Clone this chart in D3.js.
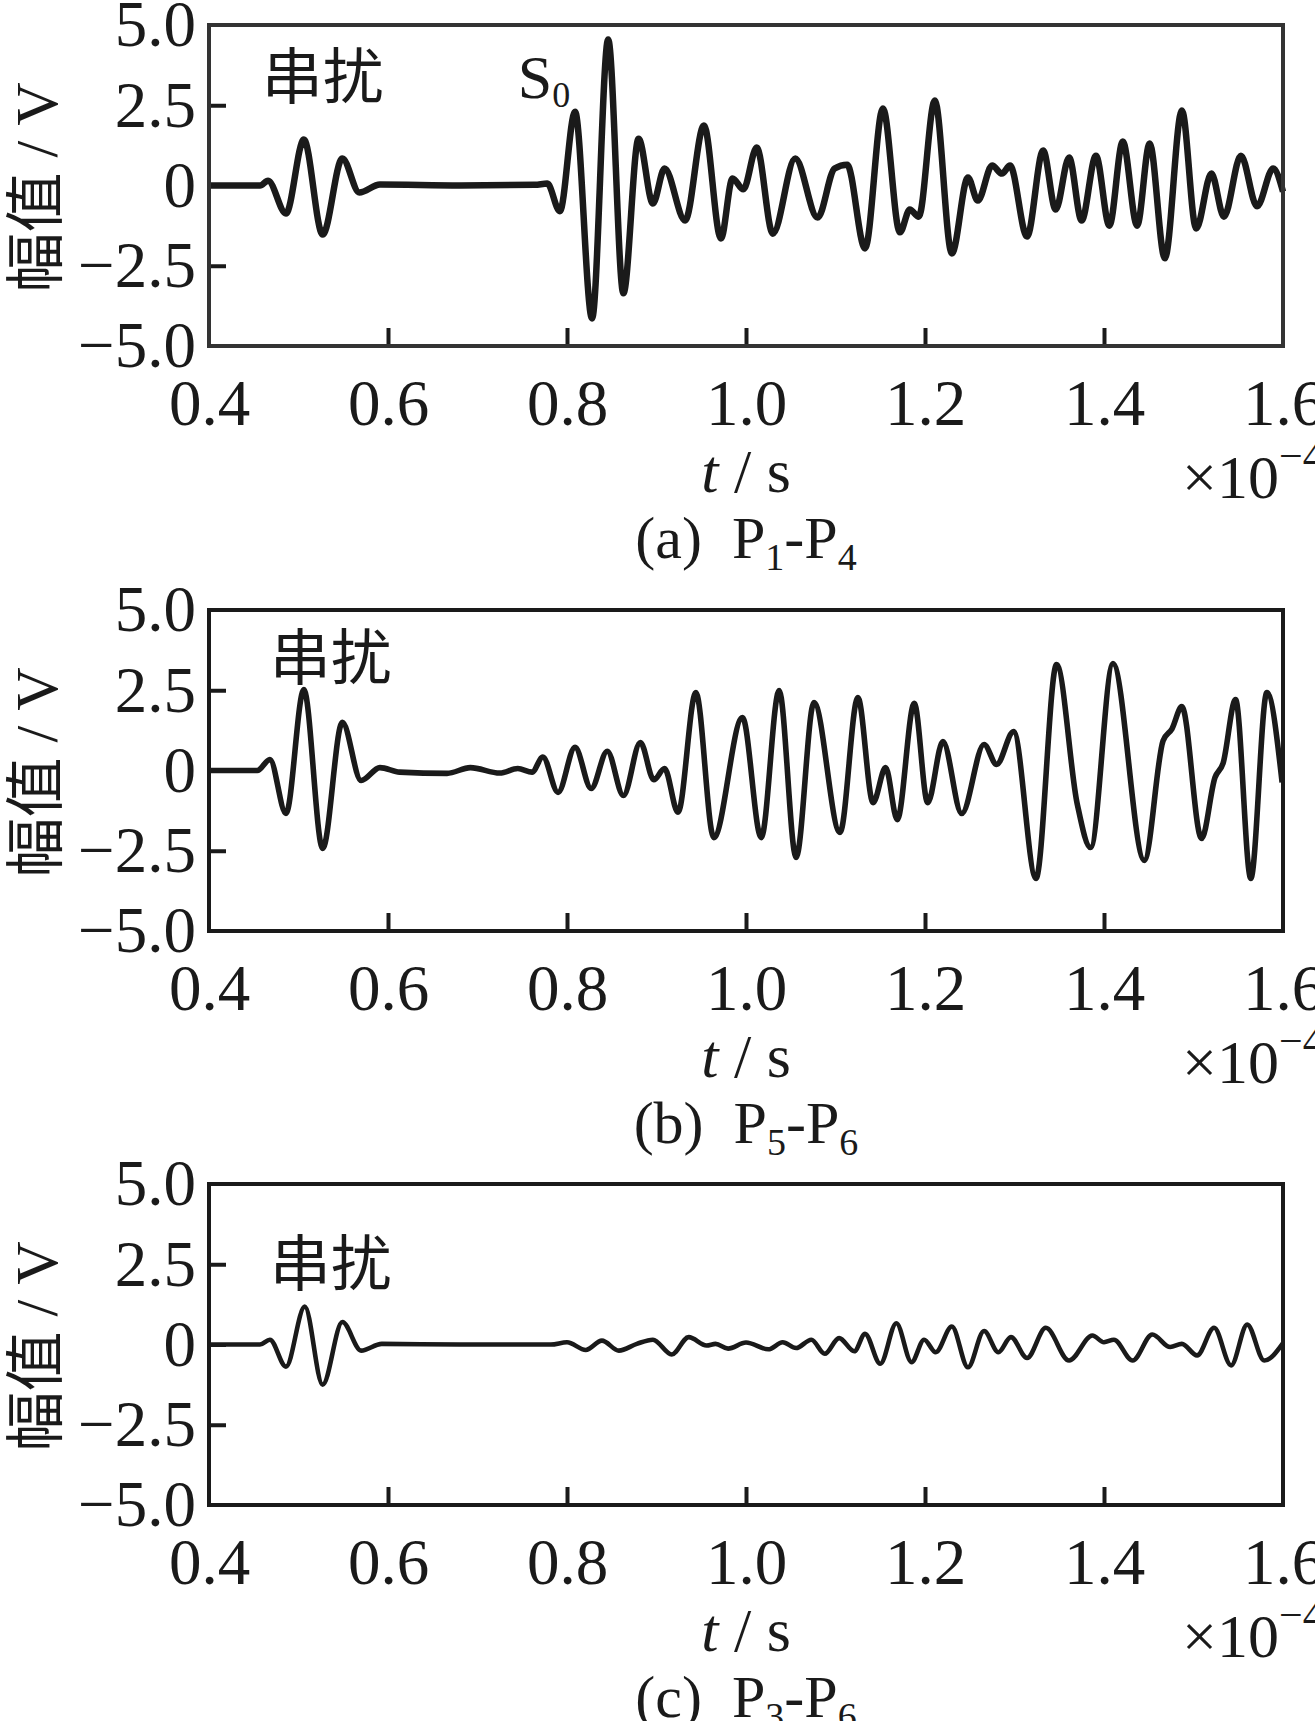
<!DOCTYPE html>
<html>
<head>
<meta charset="utf-8">
<script src="https://cdn.jsdelivr.net/npm/d3@7"></script>
<style>
	html, body { margin: 0; padding: 0; background: #fff; }
	svg { display: block; }
</style>
</head>
<body>
<svg id="chart" width="1315" height="1721"></svg>
<script>
// time in 1e-4 s, amplitude in V
var waveA = [
	[0.400, 0], [0.457, 0], [0.466, 0.15], [0.486, -0.87], [0.506, 1.43], [0.527, -1.53],
	[0.549, 0.84], [0.568, -0.22], [0.591, 0.03], [0.680, 0], [0.764, 0.02], [0.778, 0.06],
	[0.792, -0.80], [0.809, 2.30], [0.828, -4.14], [0.846, 4.55], [0.863, -3.36], [0.880, 1.46],
	[0.896, -0.56], [0.909, 0.53], [0.932, -1.09], [0.953, 1.87], [0.972, -1.65], [0.985, 0.22],
	[0.997, -0.12], [1.012, 1.18], [1.030, -1.50], [1.055, 0.84], [1.080, -1.00], [1.099, 0.53],
	[1.113, 0.65], [1.133, -1.96], [1.153, 2.40], [1.172, -1.46], [1.183, -0.75], [1.193, -0.97],
	[1.211, 2.65], [1.230, -2.12], [1.248, 0.25], [1.259, -0.47], [1.275, 0.62], [1.286, 0.37],
	[1.295, 0.62], [1.314, -1.59], [1.332, 1.09], [1.346, -0.75], [1.361, 0.87], [1.375, -1.09],
	[1.391, 0.93], [1.406, -1.25], [1.421, 1.37], [1.437, -1.25], [1.451, 1.31], [1.468, -2.27],
	[1.487, 2.34], [1.503, -1.34], [1.520, 0.37], [1.534, -0.97], [1.553, 0.93], [1.571, -0.65],
	[1.589, 0.53], [1.600, -0.19]
];
var waveB = [
	[0.400, 0], [0.454, 0], [0.468, 0.34], [0.486, -1.34], [0.506, 2.52], [0.527, -2.43],
	[0.549, 1.50], [0.570, -0.31], [0.591, 0.09], [0.613, -0.05], [0.666, -0.09], [0.692, 0.09],
	[0.725, -0.08], [0.745, 0.06], [0.761, -0.05], [0.773, 0.42], [0.790, -0.68], [0.809, 0.72],
	[0.827, -0.56], [0.845, 0.60], [0.863, -0.78], [0.882, 0.87], [0.897, -0.29], [0.909, 0.06],
	[0.924, -1.30], [0.944, 2.43], [0.964, -2.09], [0.996, 1.65], [1.017, -2.09], [1.037, 2.49],
	[1.056, -2.71], [1.076, 2.12], [1.105, -1.93], [1.125, 2.27], [1.142, -1.00], [1.156, 0.09],
	[1.169, -1.53], [1.188, 2.09], [1.203, -1.00], [1.220, 0.90], [1.241, -1.34], [1.266, 0.81],
	[1.280, 0.19], [1.299, 1.21], [1.324, -3.36], [1.347, 3.30], [1.370, -1.03], [1.385, -2.40],
	[1.410, 3.33], [1.445, -2.80], [1.466, 0.93], [1.476, 1.30], [1.487, 1.99], [1.509, -2.12],
	[1.524, -0.22], [1.533, 0.22], [1.547, 2.21], [1.564, -3.36], [1.582, 2.43], [1.599, -0.37]
];
var waveC = [
	[0.400, 0], [0.457, 0], [0.468, 0.15], [0.486, -0.69], [0.507, 1.18], [0.527, -1.25],
	[0.549, 0.70], [0.570, -0.19], [0.593, 0.02], [0.680, 0], [0.782, 0], [0.800, 0.07],
	[0.821, -0.17], [0.839, 0.12], [0.858, -0.19], [0.878, 0.02], [0.896, 0.15], [0.917, -0.31],
	[0.936, 0.23], [0.956, -0.03], [0.966, 0.02], [0.980, -0.13], [1.000, 0.06], [1.025, -0.15],
	[1.041, 0.07], [1.056, -0.11], [1.073, 0.15], [1.088, -0.29], [1.104, 0.20], [1.121, -0.21],
	[1.133, 0.33], [1.150, -0.60], [1.168, 0.66], [1.185, -0.55], [1.199, 0.15], [1.212, -0.24],
	[1.230, 0.56], [1.248, -0.71], [1.266, 0.42], [1.282, -0.24], [1.296, 0.23], [1.314, -0.42],
	[1.335, 0.52], [1.361, -0.50], [1.387, 0.28], [1.400, 0.07], [1.411, 0.15], [1.432, -0.50],
	[1.454, 0.31], [1.474, -0.08], [1.487, 0.02], [1.504, -0.34], [1.523, 0.52], [1.542, -0.65],
	[1.560, 0.62], [1.579, -0.50], [1.600, 0.04]
];

var xTicks = [0.4, 0.6, 0.8, 1.0, 1.2, 1.4, 1.6];
var yTicks = [-5, -2.5, 0, 2.5, 5];
var captionLetters = ["(a)", "(b)", "(c)"];
var captionPorts = [["1", "4"], ["5", "6"], ["3", "6"]];
var crosstalkLabel = "串扰";
// where the 串扰 note sits, in data units [t, V]
var crosstalkAt = [[0.459, 2.71], [0.468, 2.83], [0.468, 1.81]];
var modeLabelAt = [0.745, 2.74];

var SERIF = "'Liberation Serif', 'Times New Roman', serif";
var CJK = "'Noto Sans CJK SC', 'Noto Sans CJK JP', sans-serif";
var INK = "#1a1a1a";

var svg = d3.select("#chart");
svg.append("rect").attr("width", 1315).attr("height", 1721).attr("fill", "#fff");

var left = 209, right = 1283, plotH = 321;
var tops = [25, 610, 1184];
var waves = [waveA, waveB, waveC];
var lineWidths = [6.5, 5.6, 4.6];

var x = d3.scaleLinear().domain([0.4, 1.6]).range([left, right]);
var fmtY = function(d) { return d === 0 ? "0" : d3.format(".1f")(d); };

tops.forEach(function(top, i) {
	var y = d3.scaleLinear().domain([-5, 5]).range([top + plotH, top]);
	var g = svg.append("g");

	var line = d3.line()
		.x(function(d) { return x(d[0]); })
		.y(function(d) { return y(d[1]); })
		.curve(d3.curveMonotoneX);

	g.append("path")
		.datum(waves[i])
		.attr("d", line)
		.attr("fill", "none")
		.attr("stroke", INK)
		.attr("stroke-width", lineWidths[i])
		.attr("stroke-linejoin", "round");

	var xAxis = g.append("g")
		.attr("transform", "translate(0," + (top + plotH) + ")")
		.call(d3.axisBottom(x).tickValues(xTicks).tickFormat(d3.format(".1f"))
			.tickSizeInner(-18).tickSizeOuter(0).tickPadding(33));
	var yAxis = g.append("g")
		.attr("transform", "translate(" + left + ",0)")
		.call(d3.axisLeft(y).tickValues(yTicks).tickFormat(fmtY)
			.tickSizeInner(-17).tickSizeOuter(0).tickPadding(13));
	[xAxis, yAxis].forEach(function(ax) {
		ax.select(".domain").remove();
		ax.selectAll(".tick line").attr("stroke", INK).attr("stroke-width", 4);
		ax.selectAll(".tick text")
			.attr("fill", INK)
			.style("font-family", SERIF)
			.style("font-size", "65px");
	});
	// end ticks sit on the frame
	xAxis.selectAll(".tick line").filter(function(d) { return d === 0.4 || d === 1.6; }).remove();
	yAxis.selectAll(".tick line").filter(function(d) { return d === 5 || d === -5; }).remove();

	g.append("rect")
		.attr("x", left).attr("y", top)
		.attr("width", right - left).attr("height", plotH)
		.attr("fill", "none")
		.attr("stroke", i === 0 ? "#333" : INK)
		.attr("stroke-width", 4);

	// y label
	var yl = g.append("text")
		.attr("transform", "translate(57," + (top + plotH / 2 + 2) + ") rotate(-90)")
		.attr("text-anchor", "middle")
		.attr("fill", INK)
		.style("font-size", "60px");
	yl.append("tspan").style("font-family", CJK).text("幅值");
	yl.append("tspan").style("font-family", SERIF).text(" / V");

	// x label
	var xl = g.append("text")
		.attr("x", 746).attr("y", top + plotH + 146)
		.attr("text-anchor", "middle")
		.attr("fill", INK)
		.style("font-family", SERIF)
		.style("font-size", "62px");
	xl.append("tspan").style("font-style", "italic").text("t");
	xl.append("tspan").text(" / s");

	var ex = g.append("text")
		.attr("x", 1182).attr("y", top + plotH + 152)
		.attr("fill", INK)
		.style("font-family", SERIF)
		.style("font-size", "62px");
	ex.append("tspan").text("×10");
	ex.append("tspan").attr("dy", -28).style("font-size", "42px").text("−4");

	// caption
	var cap = g.append("text")
		.attr("x", 746).attr("y", top + plotH + 212)
		.attr("text-anchor", "middle")
		.attr("fill", INK)
		.style("font-family", SERIF)
		.style("font-size", "60px");
	cap.append("tspan").text(captionLetters[i] + "\u00a0\u00a0P");
	cap.append("tspan").attr("dy", 12).style("font-size", "38px").text(captionPorts[i][0]);
	cap.append("tspan").attr("dy", -12).text("-P");
	cap.append("tspan").attr("dy", 12).style("font-size", "38px").text(captionPorts[i][1]);

	// crosstalk note
	g.append("text")
		.attr("x", x(crosstalkAt[i][0]))
		.attr("y", y(crosstalkAt[i][1]))
		.attr("fill", INK)
		.style("font-family", CJK)
		.style("font-size", "61px")
		.text(crosstalkLabel);

	if (i === 0) {
		var s0 = g.append("text")
			.attr("x", x(modeLabelAt[0]))
			.attr("y", y(modeLabelAt[1]))
			.attr("fill", INK)
			.style("font-family", SERIF)
			.style("font-size", "62px");
		s0.append("tspan").text("S");
		s0.append("tspan").attr("dy", 9).style("font-size", "36px").text("0");
	}
});
</script>
</body>
</html>
